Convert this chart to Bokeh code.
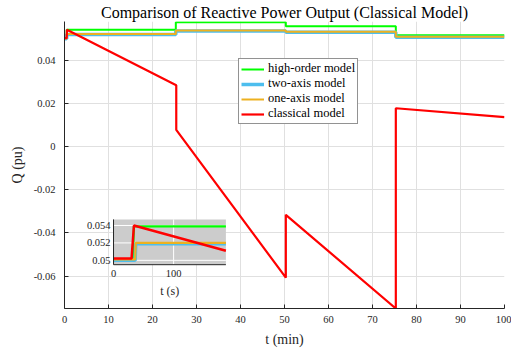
from bokeh.plotting import figure
from bokeh.models import Range1d, FixedTicker
from bokeh.embed import file_html
from bokeh.resources import INLINE
from bokeh.core.properties import value

# ---------------- data (main chart, time in minutes) ----------------
step_t = [0, 0.5, 25.3, 50.3, 75.3, 100]
high_order_q = [0.0501, 0.0542, 0.0577, 0.0558, 0.0516, 0.0516]
two_axis_q = [0.0500, 0.0520, 0.0536, 0.0530, 0.0507, 0.0507]
one_axis_q = [0.0501, 0.0522, 0.0538, 0.0532, 0.0509, 0.0509]

classical_t = [0, 0.5, 0.55, 25.4, 25.4, 50.3, 50.3, 75.3, 75.3, 100]
classical_q = [0.0503, 0.0503, 0.0542, 0.0285, 0.0078, -0.0607, -0.0316, -0.0750, 0.0178, 0.0137]

x_ticks = [0, 10, 20, 30, 40, 50, 60, 70, 80, 90, 100]
y_ticks = [-0.06, -0.04, -0.02, 0, 0.02, 0.04]
y_tick_labels = ["-0.06", "-0.04", "-0.02", "0", "0.02", "0.04"]

# ---------------- data (inset, time in seconds) ----------------
in_high_t = [0, 32, 34, 187]
in_high_q = [0.0501, 0.0501, 0.0539, 0.0539]
in_two_t = [0, 36, 37, 187]
in_two_q = [0.0500, 0.0500, 0.0519, 0.0519]
in_one_t = [0, 36, 37, 187]
in_one_q = [0.0501, 0.0501, 0.0520, 0.0520]
in_cls_t = [0, 30, 34, 187]
in_cls_q = [0.0502, 0.0502, 0.0540, 0.0511]
in_x_ticks = [0, 100]
in_x_labels = ["0", "100"]
in_y_ticks = [0.050, 0.052, 0.054]
in_y_labels = ["0.05", "0.052", "0.054"]

FONT = "Liberation Serif"
GREEN = "#00ff00"
BLUE = "#4dbeee"
ORANGE = "#edb120"
RED = "#ff0000"
AX = "#262626"

p = figure(width=511, height=354, output_backend="svg", toolbar_location=None,
           x_range=Range1d(0, 100), y_range=Range1d(-0.075, 0.058),
           min_border_left=64, min_border_right=7, min_border_top=21, min_border_bottom=46,
           title="Comparison of Reactive Power Output (Classical Model)")
p.outline_line_color = None
p.title.align = "center"
p.title.text_font = FONT
p.title.text_font_size = "16px"
p.title.text_font_style = "normal"
p.title.text_color = "#000000"
p.title.standoff = 2
p.title.offset = 0

for ax in (p.xaxis[0], p.yaxis[0]):
    ax.axis_line_color = AX
    ax.axis_line_width = 1
    ax.major_tick_in = 4
    ax.major_tick_out = 0
    ax.major_tick_line_color = AX
    ax.minor_tick_line_color = None
    ax.major_label_text_font = FONT
    ax.major_label_text_font_size = "10.5px"
    ax.major_label_text_color = AX
    ax.axis_label_text_font = FONT
    ax.axis_label_text_font_size = "14px"
    ax.axis_label_text_font_style = "normal"
    ax.axis_label_text_color = AX

p.xaxis.ticker = FixedTicker(ticks=x_ticks)
p.yaxis.ticker = FixedTicker(ticks=y_ticks)
p.yaxis.major_label_overrides = {t: l for t, l in zip(y_ticks, y_tick_labels)}
p.xaxis.axis_label = "t (min)"
p.yaxis.axis_label = "Q (pu)"
p.xaxis.major_label_standoff = 7
p.yaxis.major_label_standoff = 9
p.xaxis.axis_label_standoff = 6
p.yaxis.axis_label_standoff = 6

p.xgrid.grid_line_color = "#e0e0e0"
p.ygrid.grid_line_color = "#e0e0e0"

# main lines
p.step(step_t, high_order_q, mode="after", line_color=GREEN, line_width=2, legend_label="high-order model")
p.step(step_t, two_axis_q, mode="after", line_color=BLUE, line_width=3.5, legend_label="two-axis model")
p.step(step_t, one_axis_q, mode="after", line_color=ORANGE, line_width=2, legend_label="one-axis model")
p.line(classical_t, classical_q, line_color=RED, line_width=2.2, legend_label="classical model")

leg = p.legend[0]
leg.location = (174, 184)
leg.label_text_font = FONT
leg.label_text_font_size = "12.5px"
leg.label_text_color = "#000000"
leg.glyph_width = 23
leg.glyph_height = 14
leg.label_height = 14
leg.spacing = 0
leg.padding = 2
leg.margin = 0
leg.label_standoff = 4
leg.border_line_color = AX
leg.border_line_width = 1
leg.background_fill_alpha = 1

# ---------------- inset ----------------
xs = Range1d(0, 187)
ys = Range1d(0.0495, 0.0547)
xy = p.subplot(x_source=xs, y_source=ys,
               x_target=Range1d(11.14, 36.68), y_target=Range1d(-0.0547, -0.0337))

xy.quad(left=[xs.start], right=[xs.end], bottom=[ys.start], top=[ys.end],
        fill_color="#cccccc", line_color=None)
xy.segment(x0=in_x_ticks, x1=in_x_ticks, y0=[ys.start] * len(in_x_ticks), y1=[ys.end] * len(in_x_ticks),
           line_color="white", line_width=1)
xy.segment(x0=[xs.start] * len(in_y_ticks), x1=[xs.end] * len(in_y_ticks), y0=in_y_ticks, y1=in_y_ticks,
           line_color="white", line_width=1)

xy.line(in_high_t, in_high_q, line_color=GREEN, line_width=2.2)
xy.line(in_two_t, in_two_q, line_color=BLUE, line_width=3.5)
xy.line(in_one_t, in_one_q, line_color=ORANGE, line_width=2.2)
xy.line(in_cls_t, in_cls_q, line_color=RED, line_width=2.5)

xy.segment(x0=[xs.start], x1=[xs.start], y0=[ys.start], y1=[ys.end], line_color=AX, line_width=1)
xy.segment(x0=[xs.start], x1=[xs.end], y0=[ys.start], y1=[ys.start], line_color=AX, line_width=1)

xy.text(x=[xs.start] * len(in_y_ticks), y=in_y_ticks, text=in_y_labels,
        text_font=value(FONT), text_font_size="10.5px", text_color=AX,
        text_align="right", text_baseline="middle", x_offset=-3)
xy.text(x=in_x_ticks, y=[ys.start] * len(in_x_ticks), text=in_x_labels,
        text_font=value(FONT), text_font_size="10.5px", text_color=AX,
        text_align="center", text_baseline="top", y_offset=5)
xy.text(x=[(xs.start + xs.end) / 2], y=[ys.start], text=["t (s)"],
        text_font=value(FONT), text_font_size="12px", text_color=AX,
        text_align="center", text_baseline="middle", y_offset=26)

open("out.html", "w").write(file_html(p, INLINE))
